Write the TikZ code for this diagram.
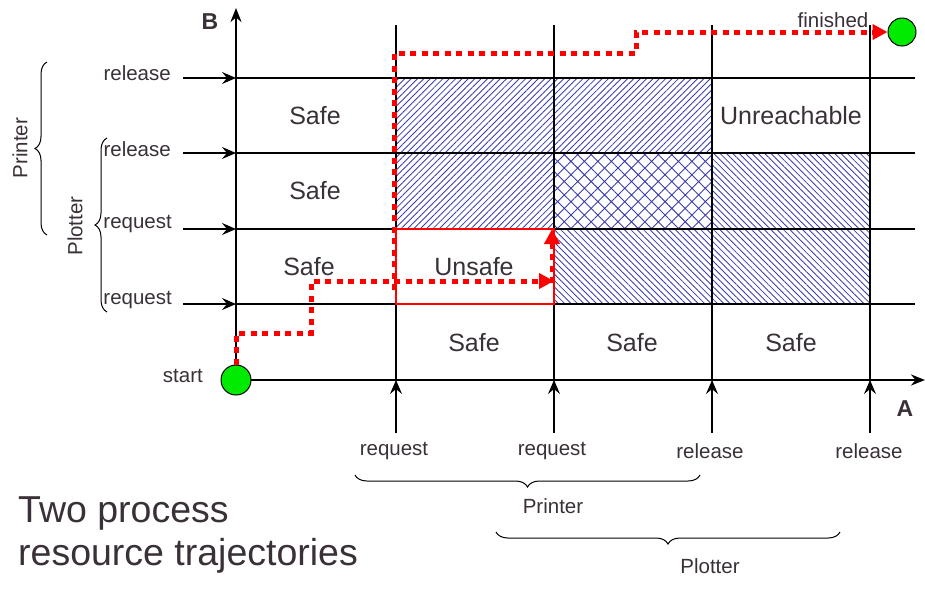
\documentclass[tikz,border=0pt]{standalone}
\usepackage{fontspec}
\setmainfont{Liberation Sans}
\usetikzlibrary{arrows.meta,patterns.meta,decorations.pathreplacing}
\definecolor{txt}{RGB}{58,48,56}
\definecolor{hatchc}{RGB}{60,60,170}
\definecolor{ballgreen}{RGB}{0,235,0}
\begin{document}
\begin{tikzpicture}[x=1pt,y=-1pt,
  axisline/.style={line width=2.8pt,-{Stealth[length=14pt,width=11pt]}},
  gridline/.style={line width=1.3pt},
  tickarrow/.style={line width=1.3pt,-{Stealth[length=14pt,width=12pt,inset=5pt]}},
  lbl/.style={text=txt,font=\fontsize{20.5}{22}\selectfont,inner sep=0pt},
  axlbl/.style={text=txt,font=\fontsize{23}{24}\bfseries\selectfont,inner sep=0pt},
  region/.style={text=txt,font=\fontsize{25}{26}\selectfont,inner sep=0pt},
  bigtext/.style={text=txt,font=\fontsize{37.5}{40}\selectfont,inner sep=0pt,anchor=base west},
  trail/.style={red,line width=5pt,dash pattern=on 6pt off 5.5pt},
  redtip/.style={-{Triangle[length=15pt,width=15pt]}},
  hatchR/.style={pattern={Lines[angle=45,distance=4.5pt,line width=0.85pt]},pattern color=hatchc},
  hatchL/.style={pattern={Lines[angle=-45,distance=4.5pt,line width=0.85pt]},pattern color=hatchc},
  hatchX/.style={pattern={Hatch[angle=45,distance=9.5pt,line width=0.9pt]},pattern color=hatchc},
  bracedec/.style={decorate,decoration={brace,amplitude=12pt},line width=1pt},
  ball/.style={circle,draw,line width=1pt,fill=ballgreen,inner sep=0pt}]
\useasboundingbox (0,0) rectangle (925,598);

% hatched regions
\fill[hatchR] (396,78) rectangle (554,153);
\fill[hatchR] (554,78) rectangle (712,153);
\fill[hatchR] (396,153) rectangle (554,229);
\fill[hatchX] (554,153) rectangle (712,229);
\fill[hatchL] (712,153) rectangle (870,229);
\fill[hatchL] (554,229) rectangle (712,304);
\fill[hatchL] (712,229) rectangle (870,304);

% grid coordinates
\coordinate (o) at (236,380);
\coordinate (ytop) at (236,8);
\coordinate (xend) at (925,380);
\foreach \n/\y in {1/78,2/153,3/229,4/304}{
  \coordinate (yl\n) at (183,\y);
  \coordinate (ya\n) at (236,\y);
  \coordinate (ye\n) at (915,\y);
}
\foreach \n/\x in {1/396,2/554,3/712,4/870}{
  \coordinate (xl\n) at (\x,433);
  \coordinate (xa\n) at (\x,380);
  \coordinate (xe\n) at (\x,25);
}

% grid lines
\foreach \n in {1,...,4}{
  \draw[gridline] (ya\n) -- (ye\n);
  \draw[gridline] (xa\n) -- (xe\n);
  \draw[tickarrow] (yl\n) -- (ya\n);
  \draw[tickarrow] (xl\n) -- (xa\n);
}

% axes
\draw[axisline] (o) -- (ytop);
\draw[axisline] (o) -- (xend);
\node[axlbl] (B) at (210,22) {B};
\node[axlbl] (A) at (905,409) {A};

% left labels
\node[lbl,anchor=east] (r1) at (171,73) {release};
\node[lbl,anchor=east] (r2) at (171,149) {release};
\node[lbl,anchor=east] (q1) at (172,224) {request};
\node[lbl,anchor=east] (q2) at (172,300) {request};

% bottom labels
\node[lbl] (bq1) at (394,451) {request};
\node[lbl] (bq2) at (552,451) {request};
\node[lbl] (br1) at (710,451) {release};
\node[lbl] (br2) at (869,451) {release};

% braces
\coordinate (pb1) at (700,475);
\coordinate (pb2) at (355,475);
\draw[bracedec] (pb1) -- (pb2);
\node[lbl] (printerB) at (553,506) {Printer};
\coordinate (lb1) at (840,532);
\coordinate (lb2) at (496,532);
\draw[bracedec] (lb1) -- (lb2);
\node[lbl] (plotterB) at (710,566) {Plotter};

\coordinate (pl1) at (47,235);
\coordinate (pl2) at (47,62);
\draw[bracedec] (pl1) -- (pl2);
\node[lbl,rotate=90] (printerL) at (20,148) {Printer};
\coordinate (ql1) at (107,312);
\coordinate (ql2) at (107,138);
\draw[bracedec] (ql1) -- (ql2);
\node[lbl,rotate=90] (plotterL) at (75,226) {Plotter};

% region texts
\node[region] (s1) at (315,116) {Safe};
\node[region] (s2) at (315,191) {Safe};
\node[region] (s3) at (309,267) {Safe};
\node[region] (us) at (474,267) {Unsafe};
\node[region] (s4) at (474,343) {Safe};
\node[region] (s5) at (632,343) {Safe};
\node[region] (s6) at (791,343) {Safe};
\node[region] (ur) at (791,116) {Unreachable};

% unsafe box
\draw[red,line width=2.6pt] (396,229) rectangle (554,304);

% balls
\node[ball,minimum size=30pt] (start) at (236,380) {};
\node[ball,minimum size=28pt] (finish) at (902,32) {};
\node[lbl,anchor=east] (startl) at (203,376) {start};
\node[lbl] (finl) at (833,20) {finished};

% trajectories
\coordinate (t1) at (236,333);
\coordinate (t2) at (311,333);
\coordinate (t3) at (311,281);
\coordinate (t4) at (554,281);
\draw[trail,redtip] (start.north) -- (t1) -- (t2) -- (t3) -- (t4);
\coordinate (u1) at (552,283);
\coordinate (u2) at (552,229);
\draw[trail,redtip] (u1) -- (u2);
\coordinate (v0) at (394,290);
\coordinate (v1) at (394,53);
\coordinate (v2) at (636,53);
\coordinate (v3) at (636,32);
\draw[trail,redtip] (v0) -- (v1) -- (v2) -- (v3) -- (finish.west);

% title
\node[bigtext] (title1) at (18,522) {Two process};
\node[bigtext] (title2) at (18,565) {resource trajectories};
\end{tikzpicture}
\end{document}
